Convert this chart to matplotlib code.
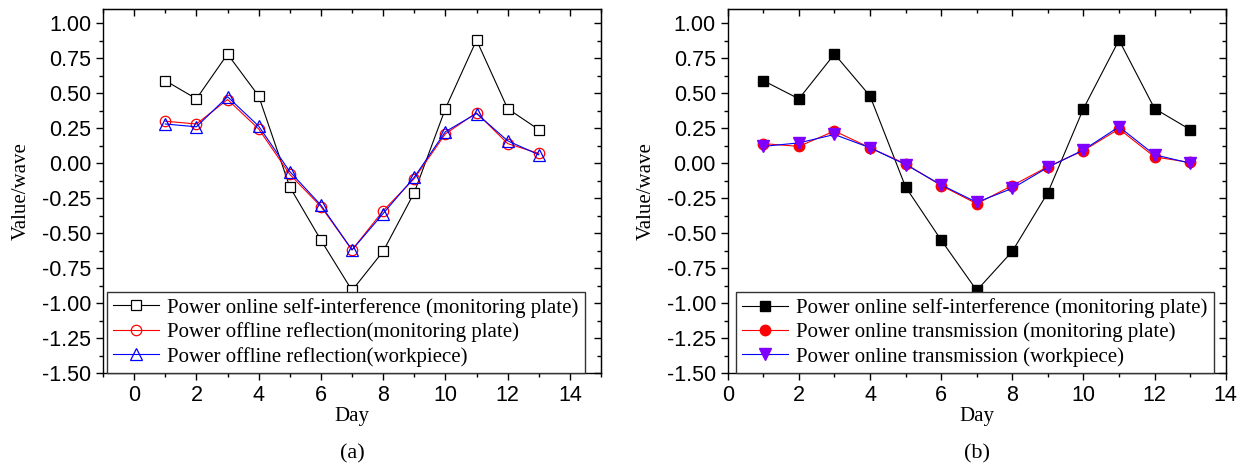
import matplotlib
matplotlib.use('Agg')

import matplotlib.pyplot as plt
from matplotlib.ticker import MultipleLocator, FormatStrFormatter

# data
days = list(range(1, 14))
self_interf = [0.59, 0.46, 0.78, 0.48, -0.17, -0.55, -0.91, -0.63, -0.21, 0.39, 0.88, 0.39, 0.24]
offline_refl_plate = [0.30, 0.28, 0.455, 0.245, -0.08, -0.31, -0.62, -0.34, -0.11, 0.21, 0.36, 0.14, 0.07]
offline_refl_work = [0.28, 0.26, 0.475, 0.265, -0.06, -0.30, -0.62, -0.36, -0.10, 0.225, 0.355, 0.16, 0.06]
online_trans_plate = [0.14, 0.12, 0.23, 0.11, -0.005, -0.16, -0.29, -0.16, -0.025, 0.09, 0.245, 0.045, 0.005]
online_trans_work = [0.12, 0.145, 0.205, 0.11, -0.01, -0.155, -0.28, -0.18, -0.03, 0.095, 0.26, 0.06, 0.0]

labels_a = ["Power online self-interference (monitoring plate)",
            "Power offline reflection(monitoring plate)",
            "Power offline reflection(workpiece)"]
labels_b = ["Power online self-interference (monitoring plate)",
            "Power online transmission (monitoring plate)",
            "Power online transmission (workpiece)"]

serif = 'Liberation Serif'
sans = 'Liberation Sans'

fig = plt.figure(figsize=(12.4, 4.7), dpi=100)
ax1 = fig.add_axes([0.0831, 0.2064, 0.4016, 0.7738])
ax2 = fig.add_axes([0.5869, 0.2064, 0.4016, 0.7738])


def style_axes(ax, xlim):
    ax.set_xlim(*xlim)
    ax.set_ylim(-1.5, 1.1)
    ax.xaxis.set_major_locator(MultipleLocator(2))
    ax.xaxis.set_minor_locator(MultipleLocator(1))
    ax.yaxis.set_major_locator(MultipleLocator(0.25))
    ax.yaxis.set_minor_locator(MultipleLocator(0.125))
    ax.yaxis.set_major_formatter(FormatStrFormatter('%.2f'))
    ax.tick_params(which='both', direction='out', top=False, right=False,
                   width=1, labelsize=15.5)
    ax.tick_params(which='major', length=5)
    ax.tick_params(which='minor', length=3)
    for lab in ax.get_xticklabels() + ax.get_yticklabels():
        lab.set_fontfamily(sans)
    # inward ticks on top and right like Origin
    sec_x = ax.secondary_xaxis('top')
    sec_x.xaxis.set_major_locator(MultipleLocator(2))
    sec_x.xaxis.set_minor_locator(MultipleLocator(1))
    sec_x.tick_params(which='both', direction='in', labeltop=False, width=1)
    sec_x.tick_params(which='major', length=5)
    sec_x.tick_params(which='minor', length=3)
    sec_y = ax.secondary_yaxis('right')
    sec_y.yaxis.set_major_locator(MultipleLocator(0.25))
    sec_y.yaxis.set_minor_locator(MultipleLocator(0.125))
    sec_y.tick_params(which='both', direction='in', labelright=False, width=1)
    sec_y.tick_params(which='major', length=5)
    sec_y.tick_params(which='minor', length=3)
    for s in ax.spines.values():
        s.set_linewidth(1.0)
    ax.set_xlabel('Day', fontfamily=serif, fontsize=15, labelpad=1)
    ax.set_ylabel('Value/wave', fontfamily=serif, fontsize=15, labelpad=8)


# (a)
ax1.plot(days, self_interf, color='black', lw=0.8, marker='s', ms=6.5,
         mfc='white', mec='black', mew=0.9, label=labels_a[0])
ax1.plot(days, offline_refl_plate, color='red', lw=0.8, marker='o', ms=7.5,
         mfc='none', mec='red', mew=0.9, label=labels_a[1])
ax1.plot(days, offline_refl_work, color='blue', lw=0.8, marker='^', ms=8.5,
         mfc='none', mec='blue', mew=0.9, label=labels_a[2])
style_axes(ax1, (-1, 15))

# (b)
ax2.plot(days, self_interf, color='black', lw=0.8, marker='s', ms=6.5,
         mfc='black', mec='black', label=labels_b[0])
ax2.plot(days, online_trans_plate, color='red', lw=0.8, marker='o', ms=7.5,
         mfc='red', mec='red', label=labels_b[1])
ax2.plot(days, online_trans_work, color='blue', lw=0.8, marker='v', ms=8,
         mfc='#8000ff', mec='#8000ff', label=labels_b[2])
style_axes(ax2, (0, 14))

for ax, anchor in ((ax1, (0.008, 0.0)), (ax2, (0.016, 0.0))):
    leg = ax.legend(loc='lower left', bbox_to_anchor=anchor, fancybox=False,
                    prop={'family': serif, 'size': 15}, handlelength=2.2,
                    handletextpad=0.4, borderpad=0.3, labelspacing=0.22,
                    borderaxespad=0.0, framealpha=1)
    leg.get_frame().set_edgecolor('#333333')
    leg.get_frame().set_linewidth(1.0)

fig.text(0.0831 + 0.4016 / 2, 0.025, '(a)', ha='center', fontfamily=serif, fontsize=16)
fig.text(0.5869 + 0.4016 / 2, 0.025, '(b)', ha='center', fontfamily=serif, fontsize=16)

fig.savefig('out.png', dpi=100)
